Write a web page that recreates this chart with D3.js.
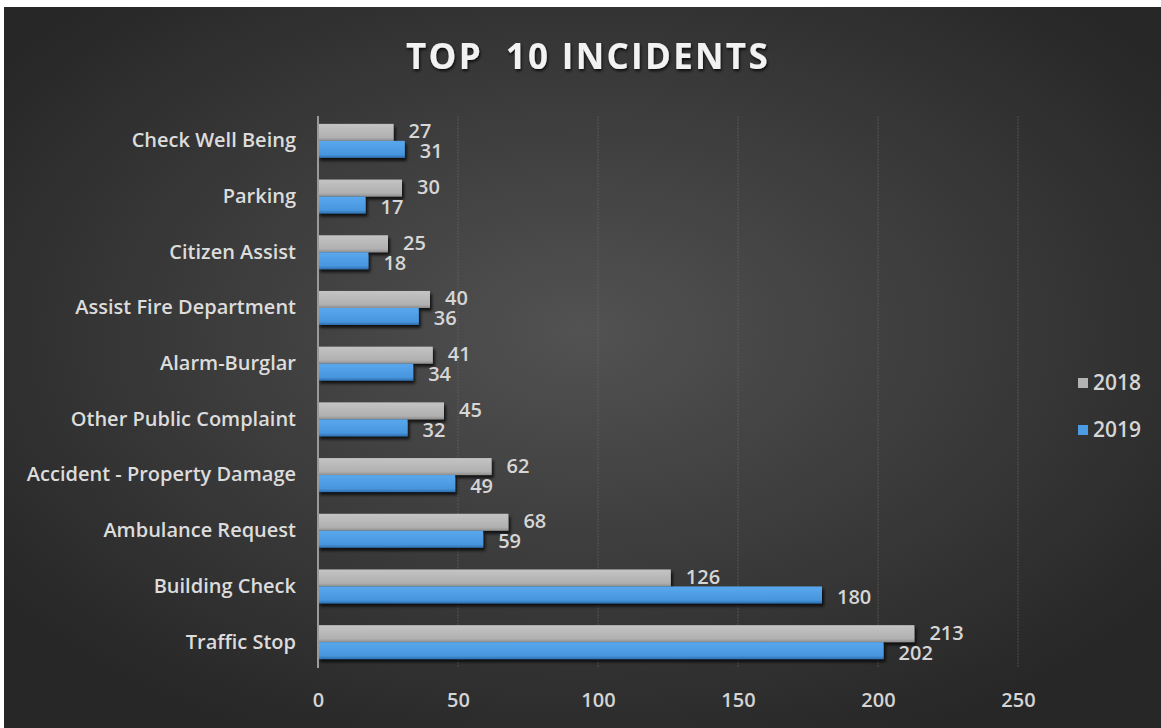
<!DOCTYPE html>
<html>
<head>
<meta charset="utf-8">
<script src="https://cdn.jsdelivr.net/npm/d3@7"></script>
<style>
  html, body { margin: 0; padding: 0; background: #fff; }
  svg { display: block; }
  text { font-family: "Open Sans", Lato, sans-serif; }
</style>
</head>
<body>
<div id="chart"></div>
<script>
// Chart data.
var categories = [
    'Check Well Being', 'Parking', 'Citizen Assist', 'Assist Fire Department',
    'Alarm-Burglar', 'Other Public Complaint', 'Accident - Property Damage',
    'Ambulance Request', 'Building Check', 'Traffic Stop'
];
var values2018 = [27, 30, 25, 40, 41, 45, 62, 68, 126, 213];
var values2019 = [31, 17, 18, 36, 34, 32, 49, 59, 180, 202];
var seriesNames = ['2018', '2019'];
var xTicks = [0, 50, 100, 150, 200, 250];

(function (d3) {
    'use strict';

    var W = 1161, H = 728;
    var colors = {'2018': '#b3b3b3', '2019': '#4b9ce4'};

    var svg = d3.select('#chart').append('svg')
        .attr('width', W)
        .attr('height', H);

    var defs = svg.append('defs');

    // dark background, lighter in the middle
    var bg = defs.append('radialGradient')
        .attr('id', 'bg')
        .attr('cx', '50%').attr('cy', '45%').attr('r', '62%');
    bg.append('stop').attr('offset', '0%').attr('stop-color', '#525252');
    bg.append('stop').attr('offset', '100%').attr('stop-color', '#272727');

    var gGray = defs.append('linearGradient').attr('id', 'g2018')
        .attr('x1', 0).attr('y1', 0).attr('x2', 0).attr('y2', 1);
    gGray.append('stop').attr('offset', '0%').attr('stop-color', '#c4c4c4');
    gGray.append('stop').attr('offset', '80%').attr('stop-color', '#b0b0b0');
    gGray.append('stop').attr('offset', '100%').attr('stop-color', '#8e8e8e');

    var gBlue = defs.append('linearGradient').attr('id', 'g2019')
        .attr('x1', 0).attr('y1', 0).attr('x2', 0).attr('y2', 1);
    gBlue.append('stop').attr('offset', '0%').attr('stop-color', '#5aa8ee');
    gBlue.append('stop').attr('offset', '80%').attr('stop-color', '#4796de');
    gBlue.append('stop').attr('offset', '100%').attr('stop-color', '#2f6fae');

    var shadow = defs.append('filter').attr('id', 'shadow')
        .attr('x', '-5%').attr('y', '-30%').attr('width', '115%').attr('height', '170%');
    shadow.append('feDropShadow')
        .attr('dx', 2).attr('dy', 3).attr('stdDeviation', 1.5)
        .attr('flood-color', '#000').attr('flood-opacity', 0.75);

    var tshadow = defs.append('filter').attr('id', 'tshadow')
        .attr('x', '-5%').attr('y', '-20%').attr('width', '110%').attr('height', '150%');
    tshadow.append('feDropShadow')
        .attr('dx', 1).attr('dy', 2).attr('stdDeviation', 1.5)
        .attr('flood-color', '#000').attr('flood-opacity', 0.8);

    svg.append('rect')
        .attr('x', 4).attr('y', 7)
        .attr('width', W - 4).attr('height', H - 7)
        .attr('fill', 'url(#bg)');

    // Scales
    var x = d3.scaleLinear().domain([0, 250]).range([318, 1018]);
    var y = d3.scaleBand().domain(categories)
        .range([113, 670])
        .paddingInner(0.39)
        .paddingOuter(0.195);
    var ySub = d3.scaleBand().domain(seriesNames).range([0, y.bandwidth()]);

    // Title
    svg.append('text')
        .attr('x', 588).attr('y', 69)
        .attr('text-anchor', 'middle')
        .attr('font-family', 'Lato, sans-serif')
        .attr('font-size', 35)
        .attr('font-weight', 'bold')
        .attr('letter-spacing', 2.3)
        .attr('fill', '#f2f2f2')
        .attr('filter', 'url(#tshadow)')
        .attr('xml:space', 'preserve')
        .text('TOP  10 INCIDENTS');

    // Gridlines
    svg.append('g')
        .selectAll('line')
        .data(xTicks.slice(1))
        .join('line')
        .attr('x1', function (d) { return x(d); })
        .attr('x2', function (d) { return x(d); })
        .attr('y1', 116).attr('y2', 668)
        .attr('stroke', '#6a6a6a')
        .attr('stroke-width', 1)
        .attr('stroke-dasharray', '2,1')
        .attr('opacity', 0.55);

    // X axis ticks
    var xAxis = svg.append('g')
        .attr('transform', 'translate(0,' + 700 + ')')
        .call(d3.axisBottom(x).tickValues(xTicks).tickSize(0).tickPadding(0));
    xAxis.select('.domain').remove();
    xAxis.selectAll('text')
        .attr('font-family', '"Open Sans", sans-serif')
        .attr('font-size', 20)
        .attr('font-weight', 600)
        .attr('fill', '#d4d4d4')
        .attr('dy', '0.35em');

    // Bars
    var rows = categories.map(function (c, i) {
        return {cat: c, vals: [
            {key: '2018', value: values2018[i]},
            {key: '2019', value: values2019[i]}
        ]};
    });

    var groups = svg.append('g').selectAll('g')
        .data(rows)
        .join('g')
        .attr('transform', function (d) { return 'translate(0,' + y(d.cat) + ')'; });

    groups.selectAll('rect')
        .data(function (d) { return d.vals; })
        .join('rect')
        .attr('x', x(0))
        .attr('y', function (d) { return ySub(d.key); })
        .attr('width', function (d) { return x(d.value) - x(0); })
        .attr('height', ySub.bandwidth())
        .attr('fill', function (d) { return 'url(#g' + d.key + ')'; })
        .attr('filter', 'url(#shadow)');

    // value labels: 2018 a bit above, 2019 a bit below the bar middle
    groups.selectAll('text.val')
        .data(function (d) { return d.vals; })
        .join('text')
        .attr('class', 'val')
        .attr('x', function (d) { return x(d.value) + 15; })
        .attr('y', function (d) {
            return ySub(d.key) + ySub.bandwidth() / 2 + (d.key === '2018' ? -1 : 2);
        })
        .attr('dy', '0.35em')
        .attr('font-size', 20)
        .attr('font-weight', 600)
        .attr('fill', '#d6d6d6')
        .text(function (d) { return d.value; });

    // Y axis (category labels + line)
    var yAxis = svg.append('g')
        .attr('transform', 'translate(' + x(0) + ',0)')
        .call(d3.axisLeft(y).tickSize(0).tickPadding(22));
    yAxis.select('.domain')
        .attr('d', 'M0,' + 116 + 'V' + 668)
        .attr('stroke', '#9a9a9a')
        .attr('stroke-width', 2);
    yAxis.selectAll('text')
        .attr('font-family', '"Open Sans", sans-serif')
        .attr('font-size', 20)
        .attr('font-weight', 600)
        .attr('fill', '#dcdcdc');

    // Legend
    var legend = svg.append('g').selectAll('g')
        .data(seriesNames)
        .join('g')
        .attr('transform', function (d, i) { return 'translate(1078,' + (383 + i * 47) + ')'; });
    legend.append('rect')
        .attr('x', 0).attr('y', -5)
        .attr('width', 10).attr('height', 10)
        .attr('fill', function (d) { return colors[d]; });
    legend.append('text')
        .attr('x', 15).attr('y', 0)
        .attr('dy', '0.35em')
        .attr('font-size', 21)
        .attr('font-weight', 600)
        .attr('fill', '#d6d6d6')
        .text(function (d) { return d; });
})(d3);
</script>
</body>
</html>
